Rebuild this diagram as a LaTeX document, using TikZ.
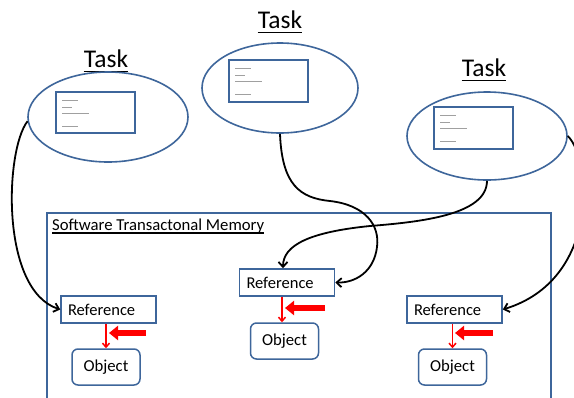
\documentclass[tikz,border=0pt]{standalone}
\usepackage{fontspec}
\setmainfont{Carlito}
\usetikzlibrary{shapes.geometric,arrows.meta}
\definecolor{bord}{RGB}{62,102,155}
\definecolor{glin}{RGB}{160,160,160}
\definecolor{redarr}{RGB}{255,0,0}
\tikzset{
  ell/.style={ellipse, draw=bord, line width=1.6pt, inner sep=0pt},
  inrect/.style={draw=bord, line width=1.6pt, minimum width=79pt, minimum height=41pt, inner sep=0pt},
  gline/.style={draw=glin, line width=0.6pt},
  tasklbl/.style={inner sep=0pt, font=\fontsize{25.5}{30}\selectfont},
  ul/.style={line width=1.8pt},
  stmlbl/.style={inner sep=0pt, font=\fontsize{16.7}{20}\selectfont},
  refbox/.style={draw=bord, line width=1.5pt, fill=white, text width=81pt, align=left, inner xsep=7pt, inner ysep=0pt, minimum height=27pt, font=\fontsize{16.5}{19}\selectfont},
  objbox/.style={draw=bord, line width=1.5pt, fill=white, rounded corners=6pt, minimum width=68pt, minimum height=36pt, inner sep=0pt, font=\fontsize{16.7}{19}\selectfont},
  conn/.style={line width=1.8pt, -{Straight Barb[length=5pt,width=9pt]}},
  thinred/.style={draw=redarr, line width=1.5pt, -{Straight Barb[length=4pt,width=7pt]}},
  thickred/.style={draw=redarr, line width=5.5pt, -{Triangle[length=9pt,width=14pt]}},
}
\begin{document}
\begin{tikzpicture}[x=1pt,y=-1pt]
\clip (0,0) rectangle (574,397);
\fill[white] (0,0) rectangle (574,397);

% STM frame
\node[draw=bord, line width=1.5pt, minimum width=504pt, minimum height=220pt, anchor=north west, inner sep=0pt] (stm) at (46,212) {};
\node[stmlbl, anchor=base west] (stml) at (52,230) {Software Transactonal Memory};
\draw[line width=1.3pt] ([yshift=-3pt]stml.base west) -- ([yshift=-3pt]stml.base east);

% Task labels
\node[tasklbl, anchor=base] (t1) at (106,67) {Task};
\node[tasklbl, anchor=base] (t2) at (280,28) {Task};
\node[tasklbl, anchor=base] (t3) at (484,76) {Task};
\foreach \t in {t1,t2,t3}
  \draw[ul] ([yshift=-4.5pt]\t.base west) -- ([yshift=-4.5pt]\t.base east);

% Task ellipses
\node[ell, minimum width=160pt, minimum height=90pt] (e1) at (108,117) {};
\node[ell, minimum width=156pt, minimum height=90pt] (e2) at (280,88) {};
\node[ell, minimum width=160pt, minimum height=88pt] (e3) at (487,136) {};

% inner rectangles
\node[inrect] (b1) at (95.5,112.5) {};
\node[inrect, minimum height=42pt] (b2) at (268.5,81) {};
\node[inrect, minimum height=42pt] (b3) at (473.5,128) {};
\foreach \b in {b1,b2,b3}{
  \draw[gline] ([shift={(7,9)}]\b.north west) -- ++(16,0);
  \draw[gline] ([shift={(7,16)}]\b.north west) -- ++(10,0);
  \draw[gline] ([shift={(7,22.5)}]\b.north west) -- ++(27,0);
  \draw[gline] ([shift={(7,35.5)}]\b.north west) -- ++(16,0);
}

% Reference and Object boxes
\node[refbox] (r1) at (108.5,309.5) {Reference};
\node[refbox] (r2) at (287,282.5) {Reference};
\node[refbox] (r3) at (454.5,309.5) {Reference};
\node[objbox] (o1) at (106,367) {Object};
\node[objbox] (o2) at (284.5,341) {Object};
\node[objbox] (o3) at (452.5,367) {Object};

% thin red arrows
\draw[thinred] (o1.north |- r1.south) -- (o1.north);
\draw[thinred] ([xshift=-2.5pt]o2.north |- r2.south) -- ([xshift=-2.5pt]o2.north);
\draw[thinred] (o3.north |- r3.south) -- (o3.north);

% thick red arrows
\coordinate (h1) at (146,333);
\coordinate (h2) at (325,308);
\coordinate (h3) at (493,333);
\draw[thickred] (h1) -- (109,333);
\draw[thickred] (h2) -- (285,308);
\draw[thickred] (h3) -- (455,333);

% black connectors
\draw[conn] (e1.183) .. controls (5,150) and (0,290) .. (r1.west);
\draw[conn] (e2.south) .. controls (282,185) and (300,198) .. (330,201)
   .. controls (365,205) and (380,225) .. (377,247)
   .. controls (374,272) and (355,283) .. (r2.east);
\draw[conn] (e3.south) .. controls (487,215) and (420,222) .. (370,226)
   .. controls (310,232) and (283,245) .. ([xshift=-4pt]r2.north);
\draw[conn] (e3.east) .. controls (592,160) and (600,280) .. (r3.east);
\end{tikzpicture}
\end{document}
